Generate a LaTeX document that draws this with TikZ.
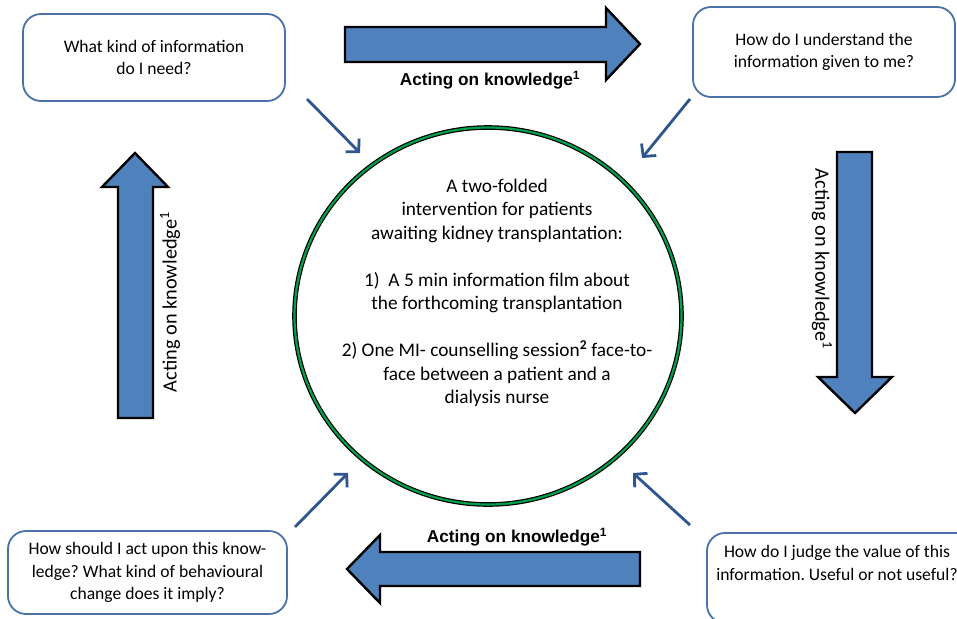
\documentclass[tikz,border=0pt]{standalone}
\usepackage{fontspec}
\setmainfont{Carlito}
\newfontfamily\arialfont{Liberation Sans}
\usetikzlibrary{arrows.meta,shapes.geometric}
\frenchspacing
\definecolor{boxblue}{HTML}{4A72A8}
\definecolor{fillblue}{HTML}{4F81BD}
\definecolor{darrow}{HTML}{2E5590}
\definecolor{ringgreen}{HTML}{00A04A}
\tikzset{
  qbox/.style={draw=boxblue, line width=1.8pt, rounded corners=18pt, fill=white,
    align=center, inner sep=0pt, font=\fontsize{17.6}{22.5}\selectfont},
  qtext/.style={align=center, inner sep=0pt, font=\fontsize{17.6}{22.5}\selectfont},
  bigarrow/.style={fill=fillblue, draw=black, line width=2.4pt, line join=miter},
  boldlabel/.style={font=\arialfont\bfseries\fontsize{17.2}{20}\selectfont, inner sep=0pt},
  sidelabel/.style={font=\fontsize{20.3}{24}\selectfont, inner sep=0pt},
  smallarrow/.style={draw=darrow, line width=2.8pt, -{Straight Barb[length=9pt,width=19pt]}},
}
\begin{document}
\begin{tikzpicture}[x=1pt,y=-1pt]
\useasboundingbox (0,0) rectangle (957,618);
\clip (0,0) rectangle (957,618);

% question boxes
\node[qbox, minimum width=262pt, minimum height=87pt] (tl) at (154,57.5)
  {What kind of information\\do I need?};
\node[qbox, minimum width=262pt, minimum height=90pt] (tr) at (824,52)
  {How do I understand the\\information given to me?};
\node[qbox, minimum width=279pt, minimum height=83pt] (bl) at (147.5,572.5)
  {How should I act upon this know-\\ledge? What kind of behavioural\\change does it imply?};
\node[qbox, minimum width=268pt, minimum height=90pt] (br) at (841,578) {};
\node[qtext] (brt) at (837,563)
  {How do I judge the value of this\\information. Useful or not useful?};

% central circle
\node[ellipse, draw=black, line width=1.2pt, double=ringgreen, double distance=2.2pt,
      minimum width=387pt, minimum height=377pt] (circ) at (488,316) {};
\node[qtext, font=\fontsize{19.3}{23.5}\selectfont] (ctext) at (497,293)
  {A two-folded\\intervention for patients\\awaiting kidney transplantation:\\[23.5pt]
   1)~ A 5 min information film about\\the forthcoming transplantation\\[23.5pt]
   2) One MI- counselling session\textsuperscript{\bfseries 2} face-to-\\face between a patient and a\\dialysis nurse};

% big block arrows
\draw[bigarrow] (345,27) -- (606,27) -- (606,8) -- (640,44) -- (606,80) -- (606,62) -- (345,62) -- cycle;
\draw[bigarrow] (837,152) -- (872,152) -- (872,377) -- (892,377) -- (855,413) -- (818,377) -- (837,377) -- cycle;
\draw[bigarrow] (640,552) -- (380,552) -- (380,535) -- (347,569) -- (380,603) -- (380,586) -- (640,586) -- cycle;
\draw[bigarrow] (118,418) -- (153,418) -- (153,187) -- (168,187) -- (135,153) -- (102,187) -- (118,187) -- cycle;

% labels
\node[boldlabel] (ltop) at (490,80) {Acting on knowledge\textsuperscript{1}};
\node[boldlabel] (lbot) at (517,537) {Acting on knowledge\textsuperscript{1}};
\node[sidelabel, rotate=-90] (lright) at (822,259) {Acting on knowledge\textsuperscript{1}};
\node[sidelabel, rotate=90] (lleft) at (170,302) {Acting on knowledge\textsuperscript{1}};

% small connectors
\coordinate (a1s) at (307,99);   \coordinate (a1e) at (360,153);
\coordinate (a2s) at (690,99);   \coordinate (a2e) at (642,158);
\coordinate (a3s) at (295,527);  \coordinate (a3e) at (348,473);
\coordinate (a4s) at (690,525);  \coordinate (a4e) at (633,473);
\draw[smallarrow] (a1s) -- (a1e);
\draw[smallarrow] (a2s) -- (a2e);
\draw[smallarrow] (a3s) -- (a3e);
\draw[smallarrow] (a4s) -- (a4e);
\end{tikzpicture}
\end{document}
